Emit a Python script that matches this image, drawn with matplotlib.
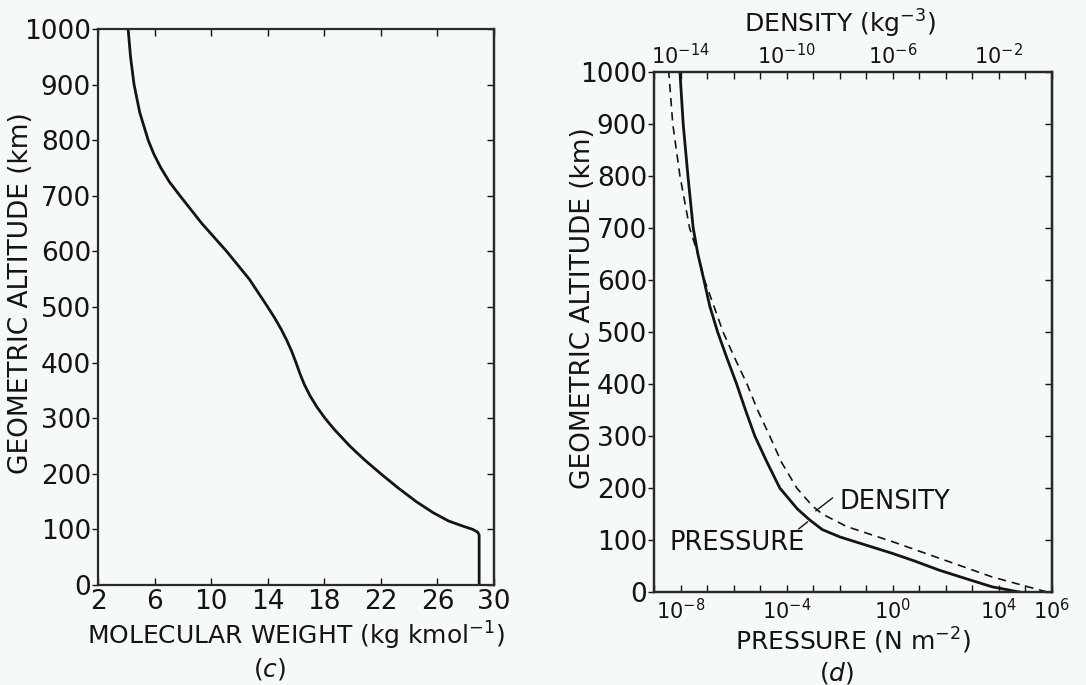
import matplotlib
matplotlib.use("Agg")
import matplotlib.pyplot as plt
from matplotlib.ticker import FixedLocator, FixedFormatter, NullLocator, NullFormatter

plt.rcParams['font.family'] = ['DejaVu Sans']
plt.rcParams['mathtext.fontset'] = 'dejavusans'
plt.rcParams['mathtext.default'] = 'regular'

# ---------------- data ----------------
# panel (c): molecular weight vs altitude
mw_alt = [0, 50, 90, 95, 100, 105, 115, 130, 150, 175, 200, 225, 250, 280,
          300, 320, 340, 360, 380, 400, 420, 440, 460, 480, 500, 550, 600,
          650, 700, 725, 750, 775, 800, 850, 900, 950, 1000]
mw_val = [28.95, 28.95, 28.95, 28.85, 28.5, 27.9, 26.8, 25.7, 24.5, 23.2,
          22.0, 20.85, 19.8, 18.7, 18.05, 17.48, 17.0, 16.6, 16.28, 16.0,
          15.7, 15.35, 14.95, 14.5, 14.0, 12.7, 11.1, 9.35, 7.8, 7.05, 6.45,
          5.95, 5.55, 4.95, 4.55, 4.3, 4.13]

# panel (d): pressure (N m^-2) vs altitude
p_alt = [0, 10, 25, 42, 60, 74, 90, 106, 120, 139, 160, 200, 250, 300, 350,
         400, 450, 500, 550, 600, 650, 700, 800, 900, 1000]
p_val = [5.8e4, 5.5e3, 6.3e2, 56.0, 6.3, 1.0, 0.1, 1.0e-2, 2.2e-3, 7.2e-4,
         2.5e-4, 5.5e-5, 1.8e-5, 6.3e-6, 2.8e-6, 1.3e-6, 5.6e-7, 2.5e-7,
         1.26e-7, 7.6e-8, 4.5e-8, 3.0e-8, 1.9e-8, 1.26e-8, 9.5e-9]

# panel (d): density (kg m^-3) vs altitude
d_alt = [0, 29, 65, 97, 110, 126, 150, 165, 200, 250, 300, 350, 400, 450,
         500, 550, 600, 650, 700, 800, 900, 1000]
d_val = [0.65, 5.5e-3, 5.6e-5, 9.5e-7, 1.6e-7, 1.8e-8, 2.2e-9, 9.5e-10,
         2.4e-10, 6.3e-11, 2.3e-11, 8e-12, 3.2e-12, 1.1e-12, 4e-13, 1.8e-13,
         8e-14, 4.5e-14, 2.2e-14, 9.5e-15, 5.1e-15, 3.6e-15]

alt_ticks = list(range(0, 1001, 100))
mw_ticks = [2, 6, 10, 14, 18, 22, 26, 30]
p_decades = [1e-9, 1e-8, 1e-7, 1e-6, 1e-5, 1e-4, 1e-3, 1e-2, 1e-1, 1e0,
             1e1, 1e2, 1e3, 1e4, 1e5, 1e6]
p_labels = ['', r'$10^{-8}$', '', '', '', r'$10^{-4}$', '', '', '', r'$10^{0}$',
            '', '', '', r'$10^{4}$', '', r'$10^{6}$']
d_decades = [1e-15, 1e-14, 1e-13, 1e-12, 1e-11, 1e-10, 1e-9, 1e-8, 1e-7,
             1e-6, 1e-5, 1e-4, 1e-3, 1e-2, 1e-1, 1e0]
d_labels = ['', r'$10^{-14}$', '', '', '', r'$10^{-10}$', '', '', '',
            r'$10^{-6}$', '', '', '', r'$10^{-2}$', '', '']

BG = '#f6faf7'
INK = '#141414'
NUM_FS = 19
POW_FS = 15
LAB_FS = 18
YLAB_FS = 19
ANN_FS = 18.5

fig = plt.figure(figsize=(10.86, 6.85), dpi=100, facecolor=BG)


def style_spines(a):
    for s in a.spines.values():
        s.set_linewidth(1.6)
        s.set_color('#2a2a2a')


def inner_right_ticks(a):
    sec = a.secondary_yaxis('right')
    sec.set_yticks(alt_ticks)
    sec.yaxis.set_major_formatter(NullFormatter())
    sec.tick_params(direction='in', length=5, width=1, colors=INK)
    sec.spines['right'].set_linewidth(1.6)
    sec.spines['right'].set_color('#2a2a2a')
    return sec


# ---------------- panel (c) ----------------
ax1 = fig.add_axes([98/1086, 1-585/685, 396/1086, 556/685], facecolor=BG)
ax1.plot(mw_val, mw_alt, color=INK, lw=2.0, solid_joinstyle='round')
ax1.set_xlim(2, 30)
ax1.set_ylim(0, 1000)
ax1.set_xticks(mw_ticks)
ax1.set_yticks(alt_ticks)
ax1.tick_params(axis='x', direction='in', top=True, length=5, width=1,
                labelsize=NUM_FS, pad=3, colors=INK)
ax1.tick_params(axis='y', direction='out', length=4, width=1,
                labelsize=NUM_FS, pad=1, colors=INK)
ax1.set_xlabel(r'MOLECULAR WEIGHT (kg kmol$^{-1}$)', fontsize=LAB_FS,
               color=INK, labelpad=3)
ax1.set_ylabel('GEOMETRIC ALTITUDE (km)', fontsize=YLAB_FS, color=INK)
ax1.yaxis.set_label_coords((34 - 98) / 396, 0.525)
style_spines(ax1)
inner_right_ticks(ax1)
fig.text(270/1086, 1-669/685, r'($\it{c}$)', fontsize=LAB_FS, ha='center',
         va='center', color=INK)

# ---------------- panel (d) ----------------
ax2 = fig.add_axes([654/1086, 1-592/685, 398/1086, 520/685], facecolor=BG)
ax2.set_xscale('log')
ax2.plot(p_val, p_alt, color=INK, lw=2.0, solid_joinstyle='round')
ax2.set_xlim(1e-9, 1e6)
ax2.set_ylim(0, 1000)
ax2.xaxis.set_major_locator(FixedLocator(p_decades))
ax2.xaxis.set_major_formatter(FixedFormatter(p_labels))
ax2.xaxis.set_minor_locator(NullLocator())
ax2.set_yticks(alt_ticks)
ax2.tick_params(axis='x', direction='in', length=5, width=1,
                labelsize=POW_FS, pad=4, colors=INK)
ax2.tick_params(axis='y', direction='out', length=4, width=1,
                labelsize=NUM_FS, pad=1, colors=INK)
ax2.set_xlabel(r'PRESSURE (N m$^{-2}$)', fontsize=LAB_FS, color=INK,
               labelpad=2)
ax2.set_ylabel('GEOMETRIC ALTITUDE (km)', fontsize=YLAB_FS, color=INK)
ax2.yaxis.set_label_coords((596 - 654) / 398, 0.545)
inner_right_ticks(ax2)

ax3 = ax2.twiny()
ax3.set_xscale('log')
ax3.plot(d_val, d_alt, color=INK, lw=1.2, ls=(0, (5, 3.5)))
ax3.set_xlim(1e-15, 1e0)
ax3.xaxis.set_major_locator(FixedLocator(d_decades))
ax3.xaxis.set_major_formatter(FixedFormatter(d_labels))
ax3.xaxis.set_minor_locator(NullLocator())
ax3.tick_params(axis='x', direction='in', length=5, width=1,
                labelsize=POW_FS, pad=3, colors=INK)
ax3.set_xlabel(r'DENSITY (kg$^{-3}$)', fontsize=LAB_FS, color=INK)
ax3.xaxis.set_label_coords((840 - 654) / 398, (592 - 33) / 520)
style_spines(ax2)
style_spines(ax3)

# annotations
ax2.text(1.0e-2, 173, 'DENSITY', fontsize=ANN_FS, ha='left', va='center',
         color=INK)
ax2.annotate('', xy=(1.25e-3, 156), xytext=(5.4e-3, 181),
             arrowprops=dict(arrowstyle='-', color=INK, lw=1.0,
                             shrinkA=0, shrinkB=0))
ax2.text(4e-9, 94, 'PRESSURE', fontsize=ANN_FS, ha='left', va='center',
         color=INK)
ax2.annotate('', xy=(6.2e-4, 135), xytext=(2.8e-4, 121),
             arrowprops=dict(arrowstyle='-', color=INK, lw=1.0,
                             shrinkA=0, shrinkB=0))
fig.text(837/1086, 1-673/685, r'($\it{d}$)', fontsize=LAB_FS, ha='center',
         va='center', color=INK)

fig.savefig('out.png', dpi=100, facecolor=BG)
